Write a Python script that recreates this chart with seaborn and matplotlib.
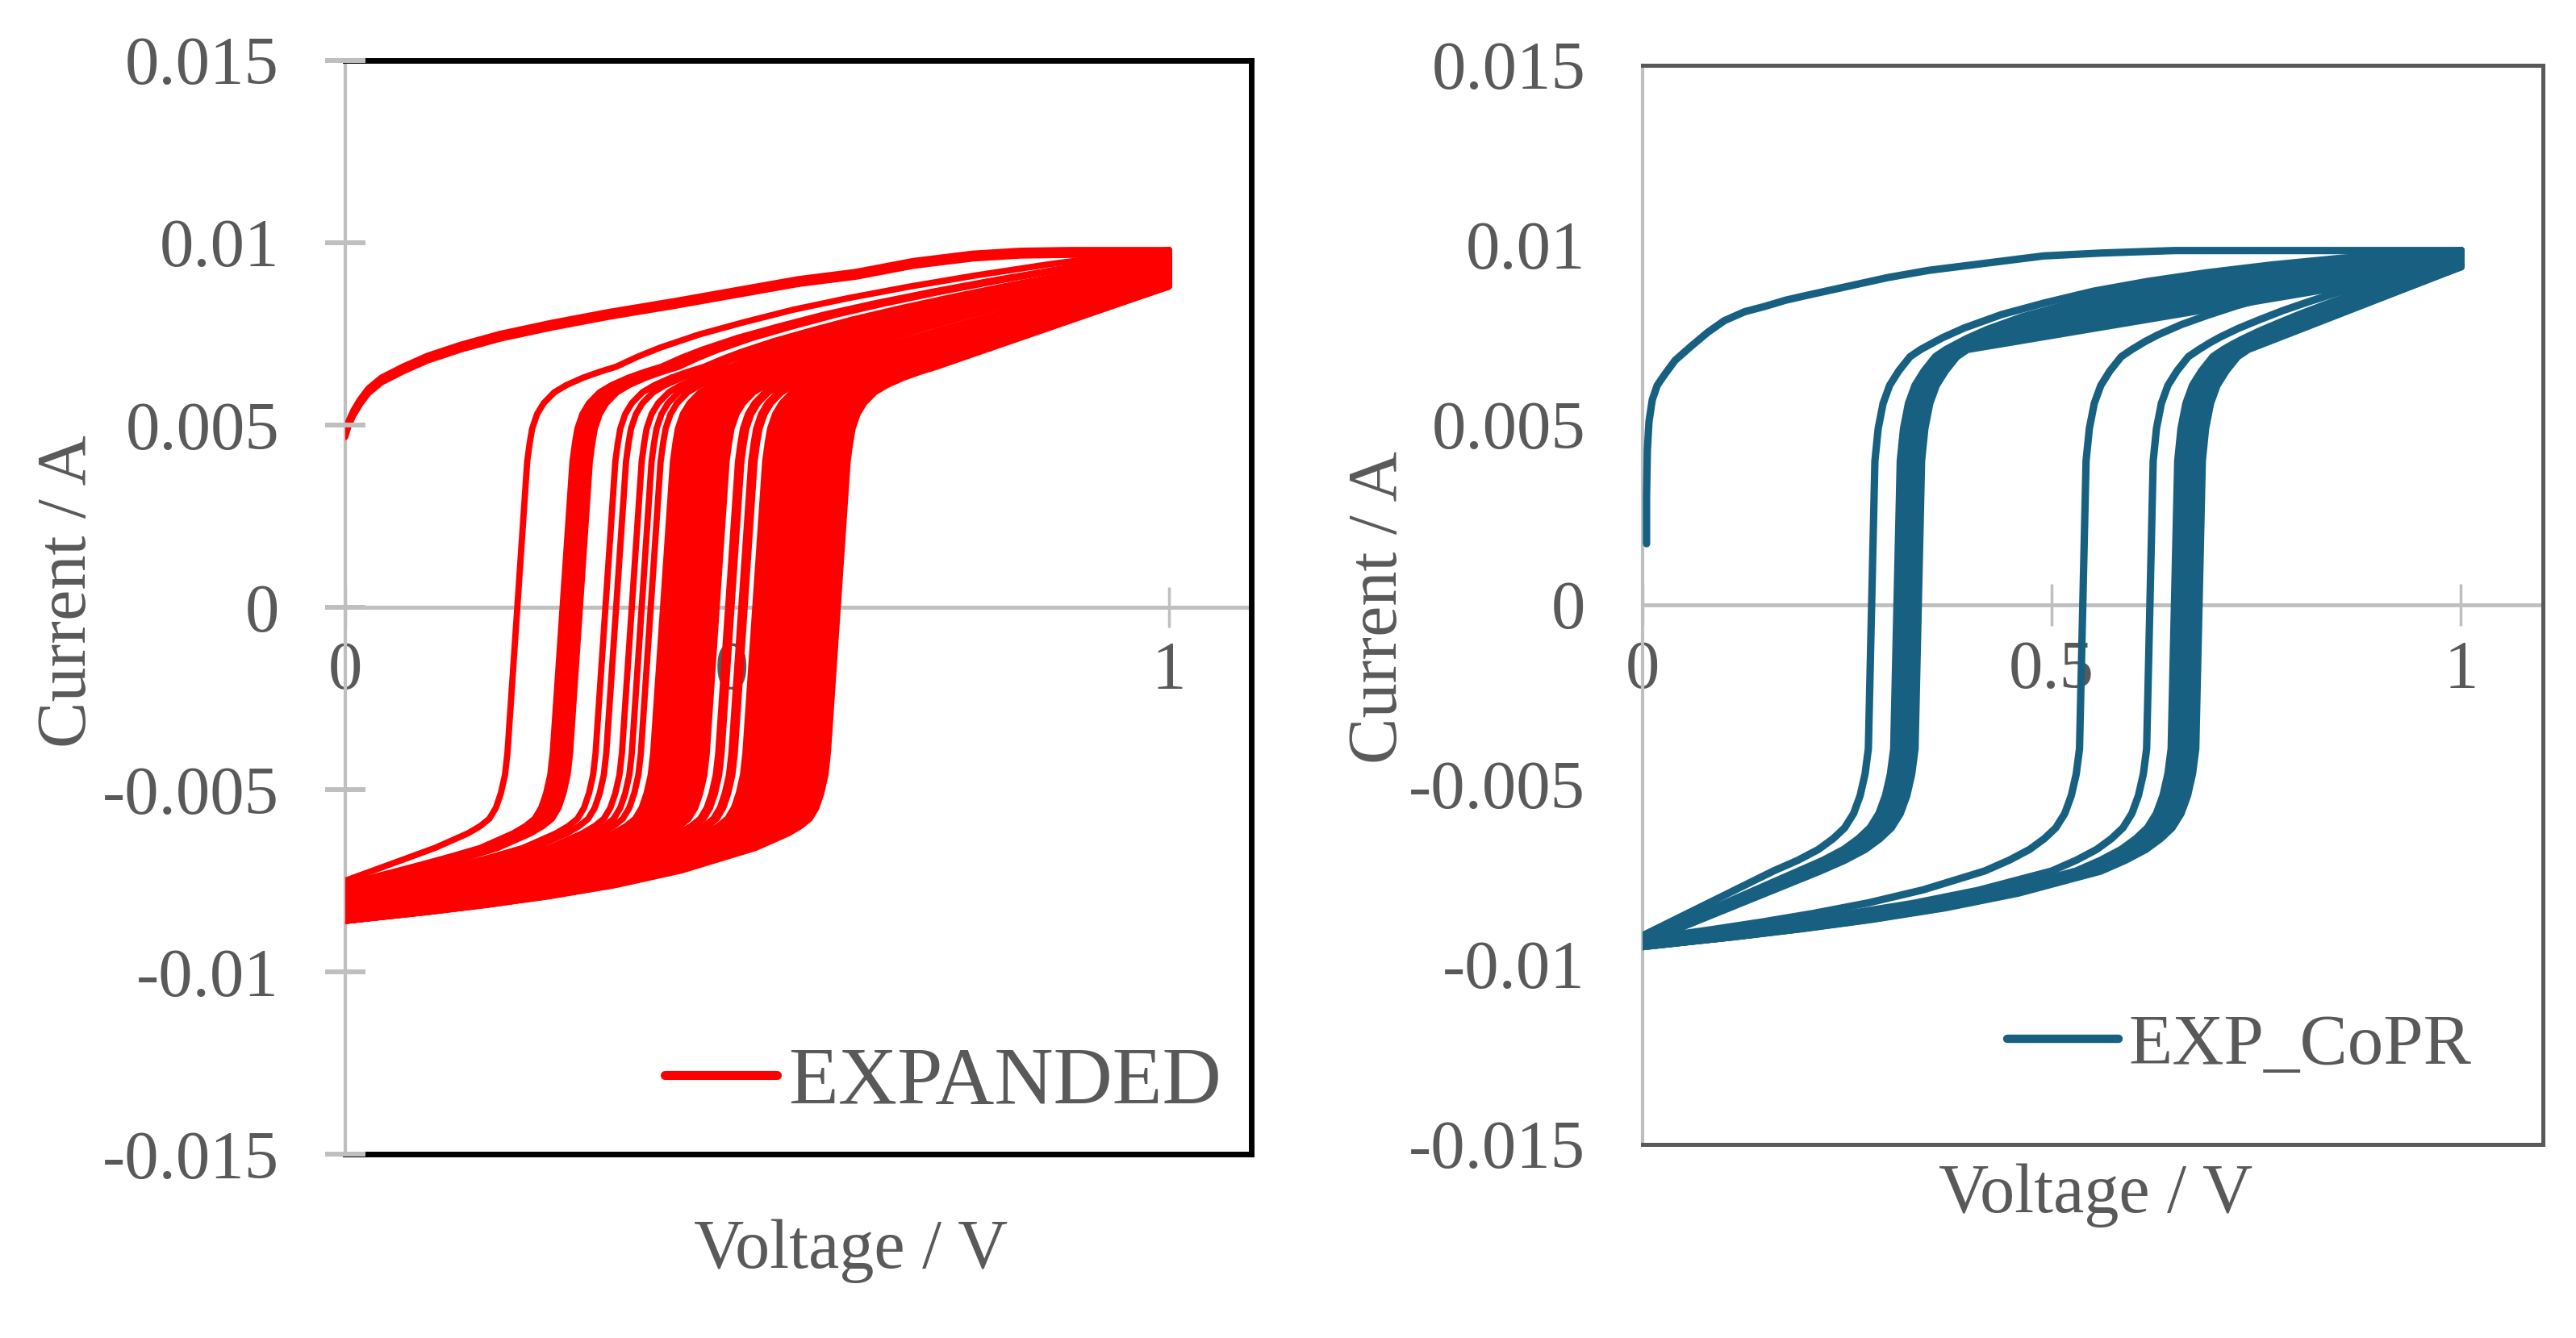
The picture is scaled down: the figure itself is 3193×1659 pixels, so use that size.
import matplotlib
matplotlib.use("Agg")
import matplotlib.pyplot as plt
from matplotlib.lines import Line2D
import seaborn as sns
import pandas as pd

# ---------------- data ----------------
y_ticks = [-0.015, -0.01, -0.005, 0.0, 0.005, 0.01, 0.015]
y_tick_labels = ["-0.015", "-0.01", "-0.005", "0", "0.005", "0.01", "0.015"]
x_ticks = [0.0, 0.5, 1.0]
x_tick_labels = ["0", "0.5", "1"]

# EXPANDED: initial trace starting at V = 0 (drawn twice, slightly offset)
red_first_v = [0.0, 0.004, 0.010, 0.018, 0.028, 0.044, 0.070, 0.100, 0.140, 0.188,
               0.250, 0.320, 0.400, 0.475, 0.550, 0.620, 0.690, 0.762, 0.820, 0.880, 1.0]
red_first_i = [0.0048, 0.0051, 0.0054, 0.0057, 0.0060, 0.0063, 0.0066, 0.0069, 0.0072, 0.0075,
               0.0078, 0.0081, 0.0084, 0.0087, 0.0090, 0.0092, 0.0095, 0.0097, 0.00978, 0.0098, 0.0098]
red_first_offsets = [0.0, -0.00013]

# EXPANDED: switching voltage (I = 0), current at V = 0, current reached at V = 1,
# bend of the upper branch, curvature of the lower branch
red_vs = [0.209, 0.264, 0.271, 0.278, 0.285, 0.316, 0.329, 0.348, 0.360, 0.371,
          0.386, 0.392, 0.398, 0.404, 0.410, 0.416, 0.422, 0.428, 0.434, 0.440, 0.446, 0.451,
          0.465, 0.469, 0.481, 0.485,
          0.498, 0.504, 0.510, 0.516, 0.522, 0.528, 0.534, 0.540, 0.546, 0.552, 0.558, 0.564,
          0.570, 0.576, 0.582, 0.588, 0.594, 0.598]
red_i0 = [-0.0075, -0.0076, -0.0077, -0.0077, -0.0078, -0.0078, -0.0079, -0.0079, -0.0080, -0.0080,
          -0.0080, -0.0080, -0.0081, -0.0081, -0.0081, -0.0081, -0.0082, -0.0082, -0.0082, -0.0082, -0.0083, -0.0083,
          -0.0083, -0.0083, -0.0083, -0.0084,
          -0.0084, -0.0084, -0.0084, -0.0084, -0.0085, -0.0085, -0.0085, -0.0085, -0.0085, -0.0085, -0.0086, -0.0086,
          -0.0086, -0.0086, -0.0086, -0.0086, -0.0086, -0.0086]
red_iend = [0.0098, 0.0097, 0.0097, 0.0097, 0.0097, 0.0096, 0.0096, 0.0096, 0.0095, 0.0095,
            0.0095, 0.0095, 0.0095, 0.0094, 0.0094, 0.0094, 0.0094, 0.0094, 0.0093, 0.0093, 0.0093, 0.0093,
            0.0092, 0.0092, 0.0092, 0.0092,
            0.0092, 0.0092, 0.0091, 0.0091, 0.0091, 0.0091, 0.0090, 0.0090, 0.0090, 0.0090, 0.0089, 0.0089,
            0.0089, 0.0089, 0.0088, 0.0088, 0.0088, 0.0088]
red_bend = [0.6, 0.5, 0.5, 0.5, 0.5, 0.4, 0.4, 0.4, 0.35, 0.35,
            0.3, 0.3, 0.3, 0.3, 0.3, 0.3, 0.3, 0.3, 0.3, 0.3, 0.3, 0.3,
            0.2, 0.2, 0.2, 0.2,
            0.2, 0.2, 0.18, 0.16, 0.14, 0.12, 0.1, 0.1, 0.08, 0.06, 0.05, 0.04,
            0.03, 0.02, 0.01, 0.0, 0.0, 0.0]
red_lowc = [0.0, 0.1, 0.1, 0.1, 0.1, 0.2, 0.2, 0.25, 0.3, 0.3,
            0.35, 0.35, 0.35, 0.4, 0.4, 0.4, 0.4, 0.45, 0.45, 0.45, 0.5, 0.5,
            0.5, 0.5, 0.55, 0.55,
            0.6, 0.6, 0.6, 0.6, 0.65, 0.65, 0.65, 0.65, 0.7, 0.7, 0.7, 0.7,
            0.75, 0.75, 0.75, 0.8, 0.8, 0.8]
red_top = 0.0098

# EXPANDED: shape of the switching step around the switching voltage
red_core_dv = [-0.10, -0.08, -0.06, -0.045, -0.034, -0.026, -0.020, -0.015, -0.012, 0.0,
               0.012, 0.015, 0.018, 0.024, 0.032, 0.045, 0.06, 0.08, 0.10, 0.12]
red_core_i = [-0.0066, -0.0064, -0.0062, -0.0060, -0.0058, -0.0055, -0.0051, -0.0046, -0.0040, 0.0,
              0.0040, 0.0045, 0.0049, 0.0053, 0.0056, 0.0059, 0.0061, 0.0063, 0.00646, 0.0066]

# EXP_CoPR: initial trace near V = 0
teal_first_v = [0.005, 0.005, 0.006, 0.008, 0.012, 0.018, 0.027, 0.040, 0.060, 0.080, 0.100, 0.125,
                0.150, 0.175, 0.200, 0.240, 0.300, 0.350, 0.420, 0.490, 0.560, 0.650, 1.000]
teal_first_i = [0.0017, 0.0030, 0.0043, 0.0051, 0.0057, 0.0061, 0.0064, 0.0068, 0.0072, 0.00758, 0.0079, 0.00815,
                0.0083, 0.00847, 0.0086, 0.0088, 0.0091, 0.0093, 0.0095, 0.0097, 0.00978, 0.00985, 0.00985]

teal_vs = [0.280, 0.311, 0.316, 0.321, 0.325, 0.329, 0.333, 0.337,
           0.538, 0.620, 0.650, 0.655, 0.660, 0.665, 0.670, 0.675, 0.680]
teal_i0 = [-0.0092, -0.0093, -0.0093, -0.0093, -0.0093, -0.0094, -0.0094, -0.0094,
           -0.0093, -0.0093, -0.0094, -0.0094, -0.0094, -0.0095, -0.0095, -0.0095, -0.0095]
teal_iend = [0.0098, 0.0098, 0.0097, 0.0097, 0.0096, 0.0096, 0.0095, 0.0094,
             0.0096, 0.0096, 0.0096, 0.0095, 0.0095, 0.0095, 0.0094, 0.0094, 0.0094]
teal_bend = [1.0, 0.9, 0.8, 0.7, 0.6, 0.4, 0.2, 0.0,
             0.6, 0.4, 0.25, 0.2, 0.15, 0.1, 0.05, 0.0, 0.0]
teal_lowc = [0.0, 0.0, 0.0, 0.0, 0.0, 0.0, 0.0, 0.0,
             0.6, 0.65, 0.7, 0.7, 0.7, 0.7, 0.7, 0.7, 0.7]
teal_top = 0.00985

teal_core_dv = [-0.12, -0.09, -0.065, -0.047, -0.033, -0.022, -0.014, -0.008, -0.004, 0.0,
                0.004, 0.008, 0.014, 0.022, 0.033, 0.047, 0.06]
teal_core_i = [-0.0074, -0.0071, -0.0068, -0.0065, -0.0062, -0.0058, -0.0053, -0.0047, -0.0040, 0.0,
               0.0040, 0.0049, 0.0056, 0.0061, 0.0065, 0.0069, 0.0071]

# shared shape of the lower branch (from V = 0 to the knee), straight or convex
low_s = [0.0, 0.2, 0.35, 0.5, 0.66, 0.82, 1.0]
low_f = [0.0, 0.1, 0.19, 0.3, 0.45, 0.66, 1.0]
# shared shape of the upper branch between the knee and V = 1
up_t = [0.0, 0.04, 0.08, 0.15, 0.23, 0.32, 0.42, 0.53, 0.65, 0.78, 0.90, 1.0]
up_g = [0.0, 0.12, 0.22, 0.36, 0.48, 0.60, 0.70, 0.79, 0.87, 0.94, 0.985, 1.0]

RED = "#FF0000"
TEAL = "#176082"
TXT = "#595959"
AXGRAY = "#BFBFBF"


def build_curve(vs, i0, iend, bend, lowc, core_dv, core_i, top):
    v1 = vs + core_dv[0]
    i1 = core_i[0]
    V = [s * v1 for s in low_s[:-1]]
    I = [i0 + ((1 - lowc) * s + lowc * f) * (i1 - i0) for s, f in zip(low_s[:-1], low_f[:-1])]
    V += [vs + d for d in core_dv]
    I += list(core_i)
    v2, i2 = V[-1], I[-1]
    for t, g in zip(up_t[1:], up_g[1:]):
        V.append(v2 + t * (1.0 - v2))
        I.append(i2 + ((1 - bend) * t + bend * g) * (iend - i2))
    V.append(1.0)
    I.append(top)
    return V, I


def frame(vs_list, i0_list, iend_list, bend_list, lowc_list, core_dv, core_i, top, first):
    rows = []
    cid = 0
    for fv, fi in first:
        for v, i in zip(fv, fi):
            rows.append((cid, v, i))
        cid += 1
    for vs, i0, ie, b, c in zip(vs_list, i0_list, iend_list, bend_list, lowc_list):
        V, I = build_curve(vs, i0, ie, b, c, core_dv, core_i, top)
        for v, i in zip(V, I):
            rows.append((cid, v, i))
        cid += 1
    return pd.DataFrame(rows, columns=["curve", "V", "I"])


red_first = [(red_first_v, [i + o for i in red_first_i]) for o in red_first_offsets]
df_red = frame(red_vs, red_i0, red_iend, red_bend, red_lowc, red_core_dv, red_core_i,
               red_top, red_first)
df_teal = frame(teal_vs, teal_i0, teal_iend, teal_bend, teal_lowc, teal_core_dv, teal_core_i,
                teal_top, [(teal_first_v, teal_first_i)])

# ---------------- figure ----------------
sns.set_style("white")
plt.rcParams["font.family"] = ["Liberation Serif", "DejaVu Serif"]

fig = plt.figure(figsize=(31.93, 16.59), dpi=100)
ax1 = fig.add_axes([0.1340, 0.1374, 0.3517, 0.8174])
ax2 = fig.add_axes([0.6376, 0.1447, 0.3495, 0.8065])

sns.lineplot(data=df_red, x="V", y="I", units="curve", estimator=None, sort=False,
             color=RED, linewidth=5.6, ax=ax1, legend=False, zorder=2,
             solid_joinstyle="round")
sns.lineplot(data=df_teal, x="V", y="I", units="curve", estimator=None, sort=False,
             color=TEAL, linewidth=6.6, ax=ax2, legend=False, zorder=2,
             solid_joinstyle="round")


def style(ax, frame_color, frame_lw, ytick_len, ypad, xtick_len, xpad):
    ax.set_xlim(0, 1.1)
    ax.set_ylim(-0.015, 0.015)
    ax.set_yticks(y_ticks)
    ax.set_yticklabels(y_tick_labels)
    ax.set_xticks(x_ticks)
    ax.set_xticklabels(x_tick_labels)
    ax.grid(False)
    for s in ("top", "right"):
        ax.spines[s].set_color(frame_color)
        ax.spines[s].set_linewidth(frame_lw)
        ax.spines[s].set_zorder(2.5)
    ax.spines["left"].set_color(AXGRAY)
    ax.spines["left"].set_linewidth(3.0)
    ax.spines["left"].set_zorder(1.6)
    ax.spines["bottom"].set_position(("data", 0))
    ax.spines["bottom"].set_color(AXGRAY)
    ax.spines["bottom"].set_linewidth(3.5)
    ax.spines["bottom"].set_zorder(1.6)
    ax.axhline(-0.015, color=frame_color, lw=frame_lw, clip_on=False, zorder=2.5,
               solid_capstyle="projecting")
    ax.tick_params(axis="y", direction="inout", length=ytick_len, width=4.3, color=AXGRAY,
                   pad=ypad, labelsize=61, labelcolor=TXT, left=True)
    ax.tick_params(axis="x", direction="inout", length=xtick_len, width=2.5, color=AXGRAY,
                   pad=xpad, labelsize=61, labelcolor=TXT, bottom=True)
    ax.xaxis.set_zorder(1.5)
    ax.yaxis.set_zorder(3)
    ax.set_xlabel("Voltage / V", fontsize=62, color=TXT)
    ax.set_ylabel("Current / A", fontsize=62, color=TXT)
    ax.xaxis.label.set_va("center")
    ax.yaxis.label.set_va("center")


style(ax1, "black", 5.0, 36, 41, 36, 12)
style(ax2, TXT, 3.6, 0, 51, 37, 13)

ax1.xaxis.set_label_coords(0.558, -0.0885)
ax1.yaxis.set_label_coords(-0.305, 0.515)
ax2.xaxis.set_label_coords(0.5036, -0.047)
ax2.yaxis.set_label_coords(-0.292, 0.498)

ax1.legend(handles=[Line2D([], [], color=RED, lw=8)], labels=["EXPANDED"],
           loc="center left", bbox_to_anchor=(0.3526, 0.064), frameon=False,
           borderpad=0, borderaxespad=0, handlelength=1.37, handletextpad=0.14,
           prop={"family": ["Liberation Serif"], "size": 73}, labelcolor=TXT)
ax2.legend(handles=[Line2D([], [], color=TEAL, lw=7.5)], labels=["EXP_CoPR"],
           loc="center left", bbox_to_anchor=(0.405, 0.091), frameon=False,
           borderpad=0, borderaxespad=0, handlelength=1.55, handletextpad=0.15,
           prop={"family": ["Liberation Serif"], "size": 64}, labelcolor=TXT)

fig.savefig("out.png", dpi=100, facecolor="white")
